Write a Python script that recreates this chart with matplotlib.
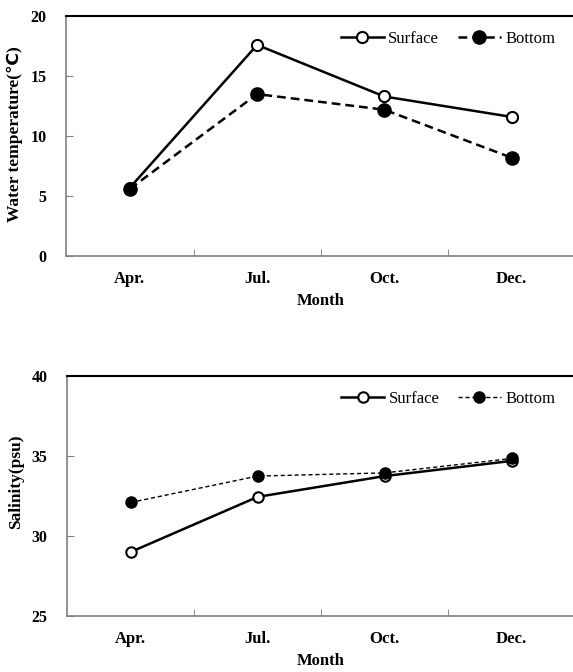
import matplotlib
matplotlib.use("Agg")
import matplotlib.pyplot as plt

# data
months = ["Apr.", "Jul.", "Oct.", "Dec."]
temp_surface = [5.7, 17.6, 13.3, 11.6]
temp_bottom = [5.6, 13.5, 12.2, 8.2]
sal_surface = [29.0, 32.45, 33.75, 34.7]
sal_bottom = [32.1, 33.75, 33.95, 34.85]

plt.rcParams['font.family'] = ['Liberation Serif', 'DejaVu Sans']

fig = plt.figure(figsize=(5.73, 6.72), dpi=100)
ax1 = fig.add_axes([0.1157, 0.619, 0.888, 0.357])
ax2 = fig.add_axes([0.1170, 0.0833, 0.887, 0.357])

x = list(range(len(months)))


def style_axes(ax, ylim, yticks, ylabel, ylabel_y=0.5):
    ax.set_xlim(-0.5, 3.5)
    ax.set_ylim(*ylim)
    ax.set_yticks(yticks)
    ax.set_yticklabels([str(t) for t in yticks], fontsize=11.5, fontweight='bold')
    ax.set_xticks(x)
    ax.set_xticklabels(months, fontsize=12, fontweight='bold')
    ax.tick_params(axis='x', length=0, pad=11)
    ax.set_xticks([0.5, 1.5, 2.5], minor=True)
    ax.tick_params(axis='x', which='minor', direction='in', length=5, color='#808080')
    ax.tick_params(axis='y', direction='in', length=5, color='#808080', pad=14)
    ax.spines['right'].set_visible(False)
    ax.spines['top'].set_color('black')
    ax.spines['top'].set_linewidth(1.5)
    for s in ['left', 'bottom']:
        ax.spines[s].set_color('#808080')
        ax.spines[s].set_linewidth(1.2)
    ax.set_xlabel("Month", fontsize=12, fontweight='bold', labelpad=4)
    ax.set_ylabel(ylabel, fontsize=12.5, fontweight='bold')
    ax.yaxis.set_label_coords(-0.085, ylabel_y)


def add_legend(ax):
    ax.legend(loc='upper right', bbox_to_anchor=(0.99, 1.0), ncol=2, frameon=False,
              fontsize=12, handlelength=2.6, columnspacing=1.1, handletextpad=0.25)


# water temperature
ax1.plot(x, temp_surface, color='black', lw=1.8, marker='o', ms=8,
         mfc='white', mec='black', mew=1.5, label='Surface', zorder=3)
ax1.plot(x, temp_bottom, color='black', lw=1.8, ls=(0, (3.5, 2)), marker='o', ms=9.5,
         mfc='black', mec='black', label='Bottom', zorder=3)
style_axes(ax1, (0, 20), [0, 5, 10, 15, 20], "Water temperature(℃)", 0.51)
add_legend(ax1)

# salinity
ax2.plot(x, sal_surface, color='black', lw=1.8, marker='o', ms=7.5,
         mfc='white', mec='black', mew=1.5, label='Surface', zorder=3)
ax2.plot(x, sal_bottom, color='black', lw=1.0, ls=(0, (3, 2)), marker='o', ms=8,
         mfc='black', mec='black', label='Bottom', zorder=3)
style_axes(ax2, (25, 40), [25, 30, 35, 40], "Salinity(psu)", 0.56)
add_legend(ax2)

fig.savefig("out.png", dpi=100)
